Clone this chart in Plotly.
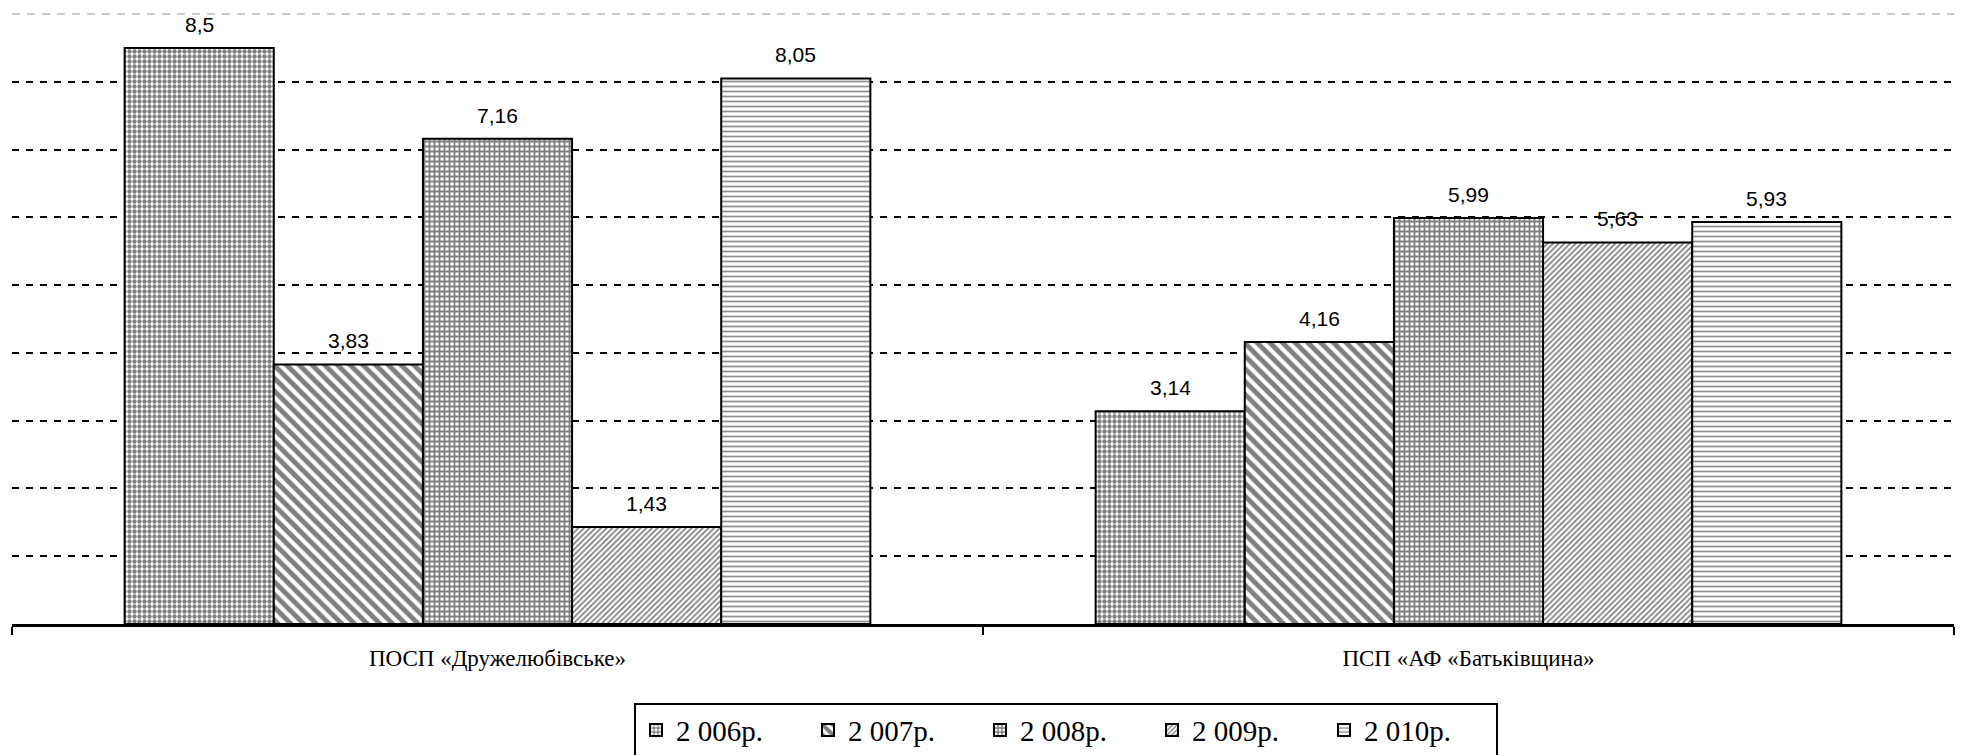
import plotly.graph_objects as go

categories = ["ПОСП «Дружелюбівське»", "ПСП «АФ «Батьківщина»"]
series_names = ["2 006р.", "2 007р.", "2 008р.", "2 009р.", "2 010р."]
v2006 = [8.5, 3.14]
v2007 = [3.83, 4.16]
v2008 = [7.16, 5.99]
v2009 = [1.43, 5.63]
v2010 = [8.05, 5.93]
series_values = [v2006, v2007, v2008, v2009, v2010]
grid_vals = [1, 2, 3, 4, 5, 6, 7, 8]

patterns = [
    dict(shape=".", size=5, solidity=0.6, fgcolor="black", bgcolor="white"),
    dict(shape="\\", size=9, solidity=0.55, fgcolor="black", bgcolor="white"),
    dict(shape="+", size=5, solidity=0.6, fgcolor="black", bgcolor="white"),
    dict(shape="/", size=4, solidity=0.45, fgcolor="black", bgcolor="white"),
    dict(shape="-", size=5, solidity=0.35, fgcolor="#222222", bgcolor="white"),
]

def fmt(v):
    return ("%g" % v).replace(".", ",")

fig = go.Figure()
for name, vals, pat in zip(series_names, series_values, patterns):
    fig.add_trace(go.Bar(
        x=categories, y=vals, name=name,
        marker=dict(color="white", pattern=pat, line=dict(color="black", width=2)),
        hoverinfo="skip",
    ))

n = len(series_names)
annotations = []
for i, vals in enumerate(series_values):
    for j, v in enumerate(vals):
        annotations.append(dict(
            x=categories[j], y=v, xref="x", yref="y",
            text=fmt(v), showarrow=False, yanchor="bottom",
            xshift=(i - (n - 1) / 2) * 149.2, yshift=10,
            font=dict(family="Liberation Sans, Arial", size=21, color="black"),
        ))

fig.update_layout(
    width=1955, height=747,
    margin=dict(l=4, r=9, t=6, b=131, autoexpand=False),
    paper_bgcolor="white", plot_bgcolor="white",
    barmode="group", bargap=0.232, bargroupgap=0,
    showlegend=True,
    legend=dict(
        orientation="h", x=0.3203, xanchor="left", y=-0.129, yanchor="top",
        bordercolor="black", borderwidth=2, bgcolor="white",
        font=dict(family="Liberation Serif, Times New Roman", size=29, color="black"),
        entrywidthmode="pixels", entrywidth=127, traceorder="normal",
    ),
    annotations=annotations,
    shapes=[dict(type="line", xref="paper", x0=0, x1=1, yref="paper", y0=1, y1=1,
                 line=dict(color="#999999", width=1.2, dash="8px,7px"), layer="below")],
)
fig.update_xaxes(
    showline=True, linecolor="black", linewidth=2.5,
    ticks="outside", tickson="boundaries", ticklen=8, tickwidth=2, tickcolor="black",
    tickfont=dict(family="Liberation Serif, Times New Roman", size=23, color="black"),
    ticklabelstandoff=12, automargin=False,
    showgrid=False,
)
fig.update_yaxes(
    range=[0, 9], tickvals=grid_vals, showticklabels=False,
    showgrid=True, gridcolor="black", gridwidth=2, griddash="7px,7px",
    zeroline=False, showline=False, ticks="", automargin=False,
)

fig.write_html("out.html")
